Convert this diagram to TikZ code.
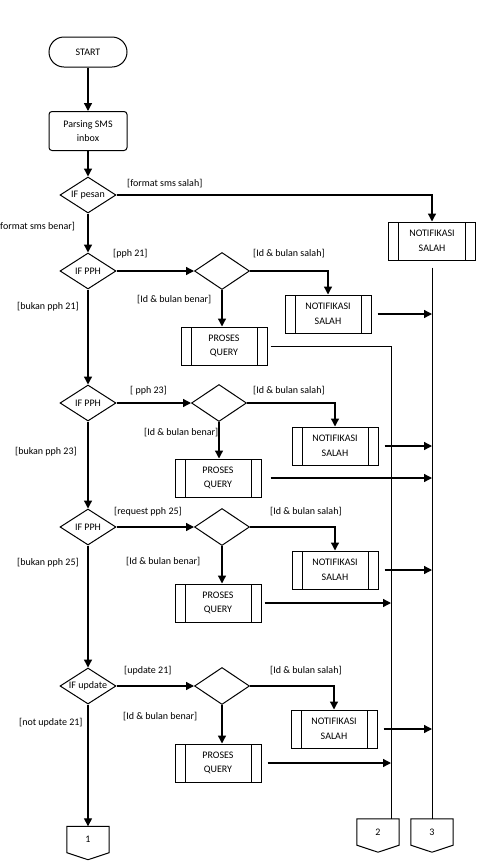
\documentclass[tikz,border=0pt]{standalone}
\usepackage{fontspec}
\setmainfont{Carlito}
\usetikzlibrary{positioning,arrows.meta,calc,shapes.geometric}

\begin{document}
\begin{tikzpicture}[x=1pt,y=-1pt,
  every node/.style={font=\fontsize{10}{14.5}\selectfont},
  terminal/.style={draw,line width=1pt,rounded corners=15pt,minimum width=78pt,minimum height=30pt},
  process/.style={draw,line width=1pt,rounded corners=3pt,align=center,minimum width=78pt,minimum height=39pt},
  decision/.style={draw,line width=1pt,diamond,inner sep=0pt,minimum width=56pt,minimum height=36pt},
  subproc/.style={draw,line width=1pt,align=center,minimum width=86pt,minimum height=38pt,
    path picture={\draw[line width=1pt]
      ([xshift=10pt]path picture bounding box.north west) -- ([xshift=10pt]path picture bounding box.south west)
      ([xshift=-10pt]path picture bounding box.north east) -- ([xshift=-10pt]path picture bounding box.south east);}},
  conn/.style={minimum width=42pt,minimum height=26pt,inner sep=0pt},
  lbl/.style={anchor=west,inner sep=0pt},
  arr/.style={-{Triangle[length=8pt,width=8pt]},line width=1.3pt},
  line/.style={line width=1pt}]
  \useasboundingbox (0,0) rectangle (477,865);

  \node[terminal] (start) at (88,52) {START};
  \node[process] (parse) at (88,131) {Parsing SMS\\inbox};
  \node[decision,label=center:IF pesan] (ifpesan) at (88,195) {};
  \node[decision,label=center:IF PPH] (pph21) at (88,271) {};
  \node[decision,label=center:IF PPH] (pph23) at (88,403) {};
  \node[decision,label=center:IF PPH] (pph25) at (88,527) {};
  \node[decision,label=center:IF update] (upd) at (88,686) {};

  \node[decision,minimum width=55pt,minimum height=37pt] (cek21) at (222,271) {};
  \node[decision,minimum width=55pt,minimum height=37pt] (cek23) at (219,403) {};
  \node[decision,minimum width=55pt,minimum height=37pt] (cek25) at (222,527) {};
  \node[decision,minimum width=55pt,minimum height=37pt] (cekupd) at (222,686) {};

  \node[subproc,minimum width=87pt] (nfpesan) at (432,241) {NOTIFIKASI\\SALAH};
  \node[subproc] (nf21) at (328,314) {NOTIFIKASI\\SALAH};
  \node[subproc] (nf23) at (335,446) {NOTIFIKASI\\SALAH};
  \node[subproc] (nf25) at (335,570) {NOTIFIKASI\\SALAH};
  \node[subproc] (nfupd) at (334,729) {NOTIFIKASI\\SALAH};

  \node[subproc] (q21) at (224,346) {PROSES\\QUERY};
  \node[subproc] (q23) at (218,478) {PROSES\\QUERY};
  \node[subproc] (q25) at (218,603) {PROSES\\QUERY};
  \node[subproc] (qupd) at (218,763) {PROSES\\QUERY};

  \node[conn] (c1) at (88,839.5) {1};
  \node[conn] (c2) at (378,832) {2};
  \node[conn] (c3) at (432,832) {3};
  \foreach \c in {c1,c2,c3}
    \draw[line] (\c.north west) -- (\c.north east) -- (\c.south east)
      -- ($(\c.south)+(0,7)$) -- (\c.south west) -- cycle;
  \coordinate (j2) at (391,819);

  \node[lbl] (lsalah) at (127,184) {[format sms salah]};
  \node[lbl] (lbenar) at (0,227) {format sms benar]};
  \node[lbl] (l21) at (113,254) {[pph 21]};
  \node[lbl] (l21s) at (253,254) {[Id \& bulan salah]};
  \node[lbl] (l21b) at (137,300) {[Id \& bulan benar]};
  \node[lbl] (l21n) at (17,307) {[bukan pph 21]};
  \node[lbl] (l23) at (130,391) {[ pph 23]};
  \node[lbl] (l23s) at (253,391) {[Id \& bulan salah]};
  \node[lbl] (l23b) at (144,433) {[Id \& bulan benar]};
  \node[lbl] (l23n) at (15,452) {[bukan pph 23]};
  \node[lbl] (l25) at (114,512) {[request pph 25]};
  \node[lbl] (l25s) at (270,512) {[Id \& bulan salah]};
  \node[lbl] (l25b) at (126,562) {[Id \& bulan benar]};
  \node[lbl] (l25n) at (17,563) {[bukan pph 25]};
  \node[lbl] (lupd) at (124,671) {[update 21]};
  \node[lbl] (lupds) at (270,671) {[Id \& bulan salah]};
  \node[lbl] (lupdb) at (123,717) {[Id \& bulan benar]};
  \node[lbl] (lupdn) at (19,723) {[not update 21]};

  \draw[arr] (start) -- (parse);
  \draw[arr] (parse) -- (ifpesan);
  \draw[arr] (ifpesan) -- (pph21);
  \draw[arr] (pph21) -- (pph23);
  \draw[arr] (pph23) -- (pph25);
  \draw[arr] (pph25) -- (upd);
  \draw[arr] (upd) -- (c1);
  \draw[arr] (ifpesan.east) -| (nfpesan.north);

  \foreach \d/\c/\n/\q in {pph21/cek21/nf21/q21,pph23/cek23/nf23/q23,pph25/cek25/nf25/q25,upd/cekupd/nfupd/qupd} {
    \draw[arr] (\d) -- (\c);
    \draw[arr] (\c.east) -| (\n.north);
    \draw[arr] (\c.south) -- (\c.south |- \q.north);
    \draw[arr,shorten <=6pt] (\n.east) -- (\n.east -| c3.north);
  }

  \draw[line,shorten <=7pt] (nfpesan.south) -- (c3.north);
  \draw[line,shorten <=3pt] (q21.east) -| (j2);
  \draw[arr,shorten <=9pt] (q23.east) -- (q23.east -| c3.north);
  \draw[arr,shorten <=3pt] (q25.east) -- (q25.east -| j2);
  \draw[arr,shorten <=6pt] (qupd.east) -- (qupd.east -| j2);
\end{tikzpicture}
\end{document}
